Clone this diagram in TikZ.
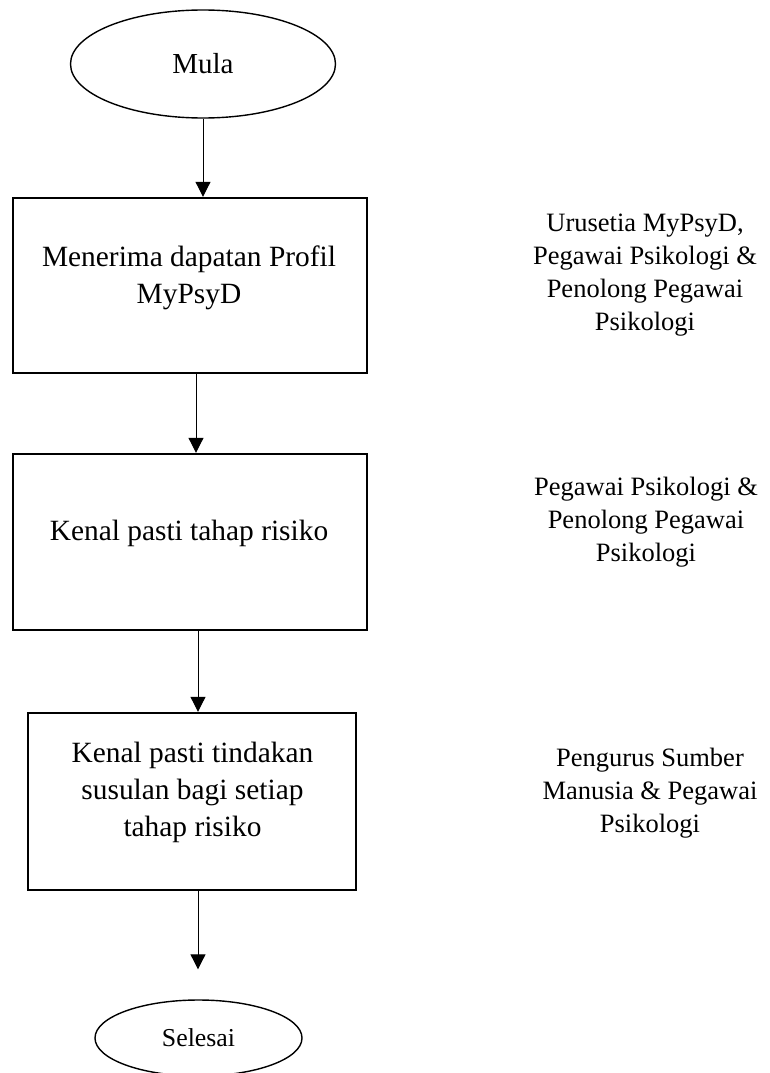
\documentclass[tikz,border=0pt]{standalone}
\usepackage{fontspec}
\setmainfont{Liberation Serif}
\usetikzlibrary{shapes.geometric,arrows.meta}

\tikzset{
	terminal/.style={draw, ellipse, line width=1.4pt, inner sep=0pt},
	procbox/.style={draw, rectangle, line width=2.4pt, inner sep=0pt},
	boxtext/.style={align=center, font=\fontsize{29.4}{37}\selectfont},
	roletext/.style={align=center, font=\fontsize{26.5}{33}\selectfont},
	flowarrow/.style={line width=1pt, -{Triangle[length=15pt,width=15pt]}}
}

\begin{document}
\begin{tikzpicture}[x=1pt,y=-1pt]
			\useasboundingbox (0,0) rectangle (769,1073);
			%% start and end
			\node[terminal, minimum width=265pt, minimum height=108pt,
				font=\fontsize{29}{34}\selectfont] (mula) at (203,64) {Mula};
			\node[terminal, minimum width=207pt, minimum height=76pt,
				font=\fontsize{25.8}{31}\selectfont] (selesai) at (198.5,1038) {Selesai};
			%% process boxes
			\node[procbox, minimum width=354pt, minimum height=175pt] (box1) at (190,285.5) {};
			\node[procbox, minimum width=354pt, minimum height=176pt] (box2) at (190,542) {};
			\node[procbox, minimum width=328pt, minimum height=177pt] (box3) at (192,801.5) {};
			%% box texts
			\node[boxtext] (t1) at (189,277.5) {Menerima dapatan Profil\\MyPsyD};
			\node[boxtext] (t2) at (189,533) {Kenal pasti tahap risiko};
			\node[boxtext] (t3) at (192.5,792) {Kenal pasti tindakan\\susulan bagi setiap\\tahap risiko};
			%% who is responsible
			\node[roletext] (r1) at (645,275) {Urusetia MyPsyD,\\Pegawai Psikologi \&\\Penolong Pegawai\\Psikologi};
			\node[roletext] (r2) at (646,522) {Pegawai Psikologi \&\\Penolong Pegawai\\Psikologi};
			\node[roletext] (r3) at (650,793) {Pengurus Sumber\\Manusia \& Pegawai\\Psikologi};
			%%% arrows
			\draw[flowarrow] (mula.south) -- (mula.south |- box1.north);
			\draw[flowarrow] ([xshift=6pt]box1.south) -- ([xshift=6pt]box1.south |- box2.north);
			\draw[flowarrow] ([xshift=8pt]box2.south) -- ([xshift=8pt]box2.south |- box3.north);
			\draw[flowarrow, shorten >=30pt] ([xshift=6pt]box3.south) -- ([xshift=6pt]box3.south |- selesai.north);
		\end{tikzpicture}
\end{document}
